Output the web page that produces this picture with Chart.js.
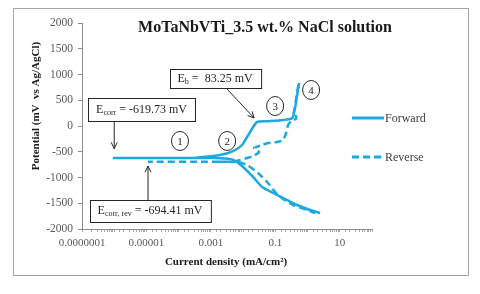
<!DOCTYPE html>
<html>
<head>
<meta charset="utf-8">
<script src="https://cdn.jsdelivr.net/npm/chart.js@4"></script>
<style>
  html, body { margin: 0; padding: 0; background: #fff; }
  #wrap { position: relative; width: 480px; height: 294px; }
</style>
</head>
<body>
<div id="wrap"><canvas id="myChart"></canvas></div>
<script>
// current density (mA/cm2) and potential (mV vs Ag/AgCl)
// null = break in the trace (the curve runs out to Ecorr and comes back)
const fwdCurrent = [2.46, 1.2, 0.475, 0.175, 0.0855, 0.039, 0.0204, 0.01, 0.0049, 0.0028, 0.0012, 9e-7,
                    null,
                    0.0003, 0.0019, 0.0049, 0.0093, 0.0145, 0.0204, 0.0272, 0.0556, 0.175, 0.333, 0.41, 0.475, 0.548];
const fwdPotential = [-1690, -1631, -1534, -1398, -1301, -1185, -990, -796, -660, -632, -622, -620,
                      null,
                      -620, -563, -486, -369, -175, -19, 78, 92, 117, 155, 350, 602, 835];

const revCurrent = [0.52, 0.46, 0.40, 0.357, 0.44, 0.44, 0.333, 0.25, 0.216, 0.175, 0.114, 0.0597, 0.039, 0.022,
                    0.0314, 0.0204, 0.0133, 0.0081, 0.0046, 0.0008, 1.12e-5,
                    null,
                    0.0015, 0.0065, 0.0133, 0.029, 0.0556, 0.0986, 0.175, 0.357, 0.97, 1.72];
const revPotential = [800, 600, 350, 194, 194, 136, 117, 19, -136, -272, -311, -330, -369, -427,
                      -505, -583, -621, -660, -694, -694, -694,
                      null,
                      -694, -700, -757, -913, -1088, -1282, -1418, -1534, -1631, -1690];

const xTickValues = [1e-7, 1e-5, 1e-3, 1e-1, 10];
const xTickLabels = ['0.0000001', '0.00001', '0.001', '0.1', '10'];

const blue = '#1aa9e2';
const serif = "'Liberation Serif', 'Times New Roman', serif";

function toPoints(xs, ys) {
    return xs.map((x, i) => ({ x: x, y: ys[i] }));
}

// boxed notes and circled step numbers, placed in data units
const notes = [
    { main: 'E', sub: 'corr', rest: ' = -619.73 mV', at: [7.05e-6, 320], h: 23, arrow: [[1e-6, 97], [1e-6, -440]] },
    { main: 'E', sub: 'b', rest: ' =  83.25 mV', at: [1.35e-3, 922], h: 19, arrow: [[2.96e-3, 738], [0.022, 155]] },
    { main: 'E', sub: 'corr, rev', rest: ' = -694.41 mV', at: [1.29e-5, -1651], h: 22, arrow: [[1.12e-5, -1437], [1.12e-5, -777]] }
];
const steps = [
    { n: '1', at: [1.1e-4, -291] },
    { n: '2', at: [3.2e-3, -291] },
    { n: '3', at: [0.0986, 388] },
    { n: '4', at: [1.29, 699] }
];

function arrow(ctx, x1, y1, x2, y2) {
    const a = Math.atan2(y2 - y1, x2 - x1);
    ctx.beginPath();
    ctx.moveTo(x1, y1);
    ctx.lineTo(x2, y2);
    ctx.moveTo(x2 - 7 * Math.cos(a - 0.45), y2 - 7 * Math.sin(a - 0.45));
    ctx.lineTo(x2, y2);
    ctx.lineTo(x2 - 7 * Math.cos(a + 0.45), y2 - 7 * Math.sin(a + 0.45));
    ctx.stroke();
}

const decor = {
    id: 'decor',
    afterDraw(chart) {
        const ctx = chart.ctx;
        const xs = chart.scales.x, ys = chart.scales.y;
        ctx.save();

        // outer frame
        ctx.strokeStyle = '#a6a6a6';
        ctx.lineWidth = 1;
        ctx.strokeRect(13.5, 8.5, 455, 267);

        ctx.fillStyle = '#1a1a1a';
        ctx.textAlign = 'center';
        ctx.textBaseline = 'middle';
        ctx.font = 'bold 16px ' + serif;
        ctx.fillText('MoTaNbVTi_3.5 wt.% NaCl solution', 265, 28);

        ctx.font = 'bold 11px ' + serif;
        ctx.fillText('Current density (mA/cm²)', 226, 262);
        ctx.save();
        ctx.translate(36, 106);
        ctx.rotate(-Math.PI / 2);
        ctx.fillText('Potential (mV  vs Ag/AgCl)', 0, 0);
        ctx.restore();

        // legend
        ctx.strokeStyle = blue;
        ctx.lineWidth = 3;
        chart.data.datasets.forEach((ds, i) => {
            const y = 118 + i * 39;
            ctx.setLineDash(ds.borderDash || []);
            ctx.beginPath();
            ctx.moveTo(352, y);
            ctx.lineTo(384, y);
            ctx.stroke();
            ctx.fillStyle = '#404040';
            ctx.textAlign = 'left';
            ctx.font = '12px ' + serif;
            ctx.fillText(ds.label, 385, y + 1);
        });
        ctx.setLineDash([]);

        // boxed values with arrows
        ctx.strokeStyle = '#262626';
        ctx.lineWidth = 1;
        notes.forEach(nt => {
            const cx = xs.getPixelForValue(nt.at[0]);
            const cy = ys.getPixelForValue(nt.at[1]);
            ctx.font = '12px ' + serif;
            const w1 = ctx.measureText(nt.main).width;
            const w3 = ctx.measureText(nt.rest).width;
            ctx.font = '8px ' + serif;
            const w2 = ctx.measureText(nt.sub).width;
            const tw = w1 + w2 + w3;
            const bw = tw + 16;
            const bx = Math.round(cx - bw / 2) + 0.5, by = Math.round(cy - nt.h / 2) + 0.5;
            ctx.fillStyle = '#fff';
            ctx.fillRect(bx, by, bw, nt.h);
            ctx.strokeRect(bx, by, bw, nt.h);
            ctx.fillStyle = '#262626';
            ctx.textAlign = 'left';
            let tx = cx - tw / 2;
            ctx.font = '12px ' + serif;
            ctx.fillText(nt.main, tx, cy);
            ctx.font = '8px ' + serif;
            ctx.fillText(nt.sub, tx + w1, cy + 3);
            ctx.font = '12px ' + serif;
            ctx.fillText(nt.rest, tx + w1 + w2, cy);
            arrow(ctx,
                xs.getPixelForValue(nt.arrow[0][0]), ys.getPixelForValue(nt.arrow[0][1]),
                xs.getPixelForValue(nt.arrow[1][0]), ys.getPixelForValue(nt.arrow[1][1]));
        });

        // circled step numbers
        steps.forEach(s => {
            const cx = xs.getPixelForValue(s.at[0]);
            const cy = ys.getPixelForValue(s.at[1]);
            ctx.beginPath();
            ctx.ellipse(cx, cy, 8.5, 9.5, 0, 0, Math.PI * 2);
            ctx.stroke();
            ctx.textAlign = 'center';
            ctx.font = '11px ' + serif;
            ctx.fillText(s.n, cx, cy + 1);
        });

        ctx.restore();
    }
};

const ctx = document.getElementById('myChart').getContext('2d');
const myChart = new Chart(ctx, {
    type: 'scatter',
    data: {
        datasets: [
            {
                label: 'Forward',
                data: toPoints(fwdCurrent, fwdPotential),
                showLine: true,
                borderColor: blue,
                borderWidth: 2.5,
                pointRadius: 0,
                tension: 0.2,
                spanGaps: false
            },
            {
                label: 'Reverse',
                data: toPoints(revCurrent, revPotential),
                showLine: true,
                borderColor: blue,
                borderWidth: 2.5,
                borderDash: [7, 4],
                pointRadius: 0,
                tension: 0.2,
                spanGaps: false
            }
        ]
    },
    options: {
        responsive: true,
        maintainAspectRatio: false,
        animation: false,
        layout: { padding: { left: 0, top: 23, right: 108, bottom: 25 } },
        scales: {
            x: {
                type: 'logarithmic',
                min: 1e-7,
                max: 100,
                afterFit: s => { s.height = 40; },
                border: { color: '#8c8c8c' },
                grid: { drawOnChartArea: false, tickLength: 3, color: '#a6a6a6' },
                ticks: {
                    autoSkip: false,
                    maxRotation: 0,
                    minRotation: 0,
                    padding: 5,
                    color: '#595959',
                    font: { family: serif, size: 11 },
                    callback: v => {
                        const k = xTickValues.findIndex(t => Math.abs(Math.log10(t) - Math.log10(v)) < 1e-6);
                        return k >= 0 ? xTickLabels[k] : '';
                    }
                }
            },
            y: {
                min: -2000,
                max: 2000,
                afterFit: s => { s.width = 82; },
                border: { color: '#8c8c8c' },
                grid: { drawOnChartArea: false, tickLength: 4, color: '#8c8c8c' },
                ticks: {
                    stepSize: 500,
                    padding: 5,
                    color: '#595959',
                    font: { family: serif, size: 11.5 },
                    callback: v => String(v)
                }
            }
        },
        plugins: {
            legend: { display: false },
            tooltip: { enabled: false }
        }
    },
    plugins: [decor]
});
</script>
</body>
</html>
